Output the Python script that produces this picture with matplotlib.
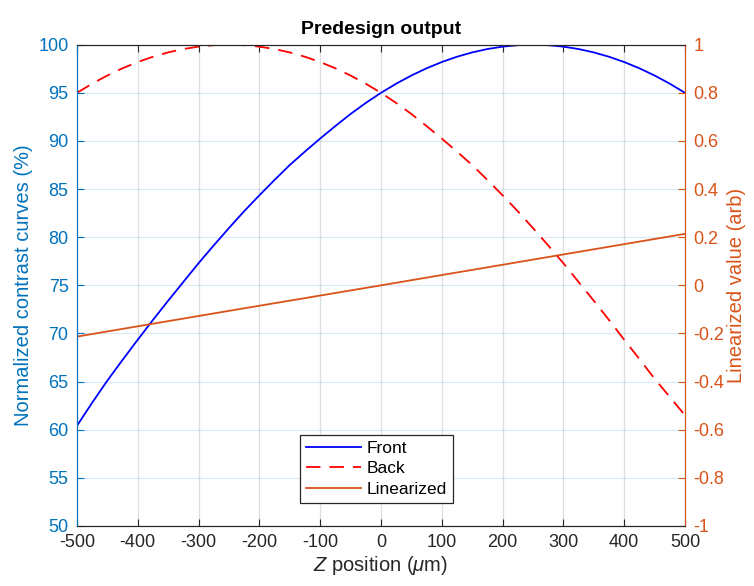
import matplotlib
matplotlib.use("Agg")
import matplotlib.pyplot as plt

plt.rcParams['font.family'] = ['Liberation Sans', 'DejaVu Sans']
plt.rcParams['axes.unicode_minus'] = False
plt.rcParams['mathtext.fontset'] = 'custom'
plt.rcParams['mathtext.it'] = 'Liberation Sans:italic'
plt.rcParams['mathtext.rm'] = 'Liberation Sans'

# Z position (um)
z = [-500, -475, -450, -425, -400, -375, -350, -325, -300, -275, -250,
     -225, -200, -175, -150, -125, -100, -75, -50, -25, 0,
     25, 50, 75, 100, 125, 150, 175, 200, 225, 250,
     275, 300, 325, 350, 375, 400, 425, 450, 475, 500]
# normalized contrast (%)
front = [60.4, 62.8, 65.1, 67.25, 69.35, 71.4, 73.4, 75.35, 77.3, 79.15, 80.95,
         82.7, 84.35, 85.95, 87.5, 88.9, 90.25, 91.55, 92.8, 93.95, 95.0,
         95.95, 96.8, 97.55, 98.2, 98.75, 99.2, 99.55, 99.8, 99.95, 100.0,
         99.95, 99.8, 99.55, 99.2, 98.75, 98.2, 97.55, 96.8, 95.95, 95.0]
back = [95.0, 95.95, 96.8, 97.55, 98.2, 98.75, 99.2, 99.55, 99.8, 99.95, 100.0,
        99.95, 99.8, 99.55, 99.2, 98.75, 98.2, 97.55, 96.8, 95.95, 95.0,
        93.95, 92.8, 91.55, 90.25, 88.9, 87.5, 85.95, 84.35, 82.7, 80.95,
        79.15, 77.3, 75.35, 73.4, 71.4, 69.35, 67.35, 65.3, 63.4, 61.5]
# linearized value (arb)
z_lin = [-500, -250, 0, 250, 500]
linearized = [-0.213, -0.106, 0.0, 0.107, 0.214]

blue_ax = '#0072BD'
orange_ax = '#D95319'
dark = '#262626'

fig = plt.figure(figsize=(7.54, 5.86), dpi=100)
ax = fig.add_axes([0.102, 0.1024, 0.8065, 0.8213])
ax2 = ax.twinx()

l1, = ax.plot(z, front, color='b', lw=1.3, label='Front')
l2, = ax.plot(z, back, color='r', lw=1.3, ls=(0, (8, 5)), label='Back')
l3, = ax2.plot(z_lin, linearized, color=orange_ax, lw=1.3, label='Linearized')

ax.set_xlim(-500, 500)
ax.set_ylim(50, 100)
ax2.set_ylim(-1, 1)
ax.set_xticks(range(-500, 501, 100))
ax.set_yticks(range(50, 101, 5))
ax2.set_yticks([-1, -0.8, -0.6, -0.4, -0.2, 0, 0.2, 0.4, 0.6, 0.8, 1])
ax2.set_yticklabels(['-1', '-0.8', '-0.6', '-0.4', '-0.2', '0', '0.2', '0.4', '0.6', '0.8', '1'])

# grid: vertical grey, horizontal tinted like left axis
ax.grid(axis='x', color=dark, alpha=0.15, lw=0.9)
ax.grid(axis='y', color=blue_ax, alpha=0.15, lw=0.9)
ax.set_axisbelow(True)

ax.tick_params(axis='x', direction='in', length=5, colors=dark, labelsize=13, top=True, pad=6)
ax.tick_params(axis='y', direction='in', length=5, colors=blue_ax, labelsize=13, pad=6)
ax2.tick_params(axis='y', direction='in', length=5, colors=orange_ax, labelsize=13, pad=6)

for a in (ax, ax2):
    a.spines['bottom'].set_color(dark)
    a.spines['top'].set_color(dark)
    a.spines['left'].set_color(blue_ax)
    a.spines['right'].set_color(orange_ax)

ax.set_xlabel(r'$Z$ position ($\mu$m)', fontsize=14.5, color=dark, labelpad=2)
ax.set_ylabel('Normalized contrast curves (%)', fontsize=14.5, color=blue_ax, labelpad=4)
ax2.set_ylabel('Linearized value (arb)', fontsize=14.5, color=orange_ax, labelpad=2)
ax.set_title('Predesign output', fontsize=14, fontweight='bold', pad=8)

leg = ax2.legend(handles=[l1, l2, l3], loc='lower center', bbox_to_anchor=(0.492, 0.03),
                 fontsize=12.5, handlelength=3.2, fancybox=False, framealpha=1,
                 edgecolor=dark, borderpad=0.35, labelspacing=0.3, handletextpad=0.3)
leg.get_frame().set_linewidth(0.9)

fig.savefig('out.png', dpi=100)
